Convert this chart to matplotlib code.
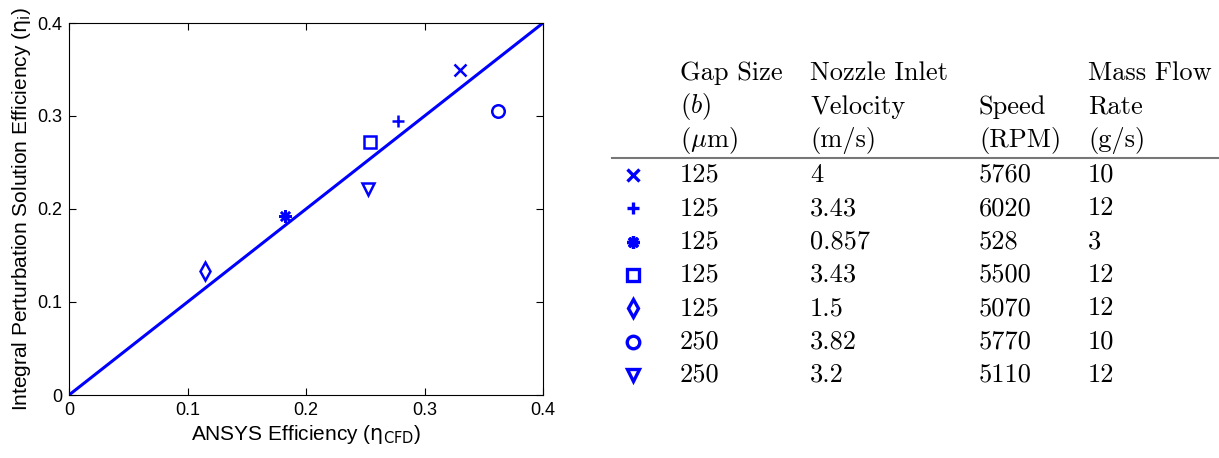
import matplotlib
matplotlib.use("Agg")
import matplotlib.pyplot as plt

# measured data (ANSYS vs integral perturbation efficiency)
eta_cfd = [0.330, 0.278, 0.182, 0.254, 0.115, 0.362, 0.252]
eta_i = [0.350, 0.295, 0.193, 0.272, 0.133, 0.305, 0.222]
markers = ['x', '+', (8, 2, 0), 's', 'd', 'o', 'v']

# table contents
gap_size = ['125', '125', '125', '125', '125', '250', '250']
velocity = ['4', '3.43', '0.857', '3.43', '1.5', '3.82', '3.2']
speed = ['5760', '6020', '528', '5500', '5070', '5770', '5110']
mass_flow = ['10', '12', '3', '12', '12', '10', '12']
headers = [
    ['Gap Size', '($b$)', r'($\mu$m)'],
    ['Nozzle Inlet', 'Velocity', '(m/s)'],
    ['', 'Speed', '(RPM)'],
    ['Mass Flow', 'Rate', '(g/s)'],
]

blue = '#0000ff'
fig = plt.figure(figsize=(12.19, 4.58), dpi=100)

ax = fig.add_axes([69 / 1219, 1 - 395 / 458, 474 / 1219, 372 / 458])
ax.plot([0, 0.4], [0, 0.4], color=blue, lw=2.2)
for x, y, m in zip(eta_cfd, eta_i, markers):
    ax.plot(x, y, linestyle='none', marker=m, markersize=9, mew=1.8,
            mfc='none', mec=blue, color=blue)
ax.set_xlim(0, 0.4)
ax.set_ylim(0, 0.4)
ax.set_xticks([0, 0.1, 0.2, 0.3, 0.4])
ax.set_yticks([0, 0.1, 0.2, 0.3, 0.4])
ax.set_xticklabels(['0', '0.1', '0.2', '0.3', '0.4'])
ax.set_yticklabels(['0', '0.1', '0.2', '0.3', '0.4'])
ax.tick_params(direction='in', top=True, right=True, labelsize=13, length=5, pad=5)
for lab in ax.get_xticklabels() + ax.get_yticklabels():
    lab.set_fontfamily('Liberation Sans')
ax.set_xlabel(r'ANSYS Efficiency ($\mathrm{\eta}_{\mathrm{CFD}}$)', fontsize=15,
              fontfamily='Liberation Sans', math_fontfamily='dejavusans', labelpad=3)
ax.set_ylabel(r'Integral Perturbation Solution Efficiency ($\mathrm{\eta}_{\mathrm{i}}$)', fontsize=15,
              fontfamily='Liberation Sans', math_fontfamily='dejavusans', labelpad=3)

# table drawn on an overlay axes in pixel units
tab = fig.add_axes([0, 0, 1, 1])
tab.set_xlim(0, 1219)
tab.set_ylim(458, 0)
tab.axis('off')

col_x = [680, 810, 979, 1088]
head_y = [73, 107, 140]
row_y0, row_dy = 175, 33.3
tkw = dict(fontsize=19, fontfamily='cmr10', math_fontfamily='cm',
           ha='left', va='center')

for cx, lines in zip(col_x, headers):
    for hy, s in zip(head_y, lines):
        if s:
            tab.text(cx, hy, s, **tkw)

tab.plot([612, 1219], [158, 158], color='#777777', lw=1.5)

columns = [gap_size, velocity, speed, mass_flow]
for i, m in enumerate(markers):
    y = row_y0 + i * row_dy
    tab.plot(633, y, linestyle='none', marker=m, markersize=9, mew=2.4,
             mfc='none', mec=blue, color=blue)
    for cx, col in zip(col_x, columns):
        tab.text(cx, y, col[i], **tkw)

fig.savefig('out.png', dpi=100)
